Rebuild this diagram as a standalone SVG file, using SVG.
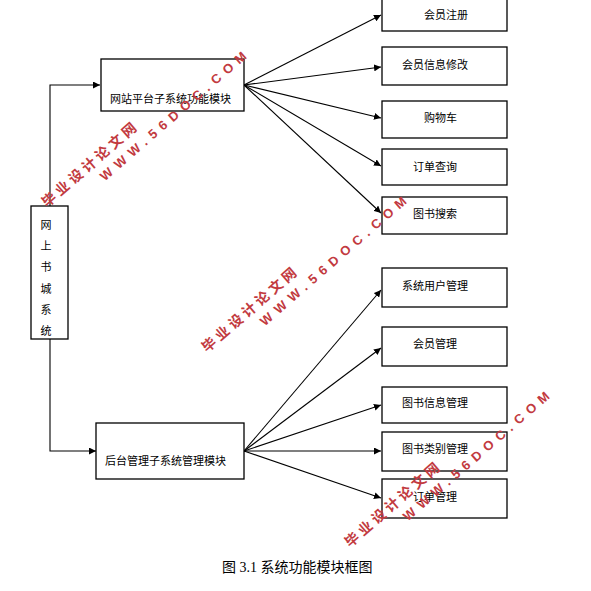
<svg xmlns="http://www.w3.org/2000/svg" width="591" height="591" viewBox="0 0 591 591">
<style>
.box{fill:#fff;stroke:#000;stroke-width:1.3}
.t{font-family:"Noto Sans CJK SC","Liberation Sans",sans-serif;font-size:11px;fill:#000}
.ln{fill:none;stroke:#000;stroke-width:1.1}
.cap{font-family:"Liberation Serif","Noto Sans CJK SC",serif;font-size:14px;fill:#000}
.wmc{font-family:"Noto Sans CJK SC",sans-serif;font-size:14px;font-weight:bold;fill:#c23a40}
.wme{font-family:"Liberation Sans",sans-serif;font-size:13px;font-weight:bold;fill:#c23a40}
</style>
<defs>
<marker id="ah" viewBox="0 0 10 10" refX="10" refY="5" markerWidth="7" markerHeight="7" markerUnits="userSpaceOnUse" orient="auto">
<path d="M0,0 L10,5 L0,10 z" fill="#000"/>
</marker>
</defs>
<rect width="591" height="591" fill="#fff"/>
<g id="connectors">
<polyline class="ln" points="50,206 50,85 100,85" marker-end="url(#ah)"/>
<polyline class="ln" points="50,339 50,451 96,451" marker-end="url(#ah)"/>
<line class="ln" x1="244" y1="85" x2="381" y2="15" marker-end="url(#ah)"/>
<line class="ln" x1="244" y1="85" x2="381" y2="67" marker-end="url(#ah)"/>
<line class="ln" x1="244" y1="85" x2="381" y2="118" marker-end="url(#ah)"/>
<line class="ln" x1="244" y1="85" x2="381" y2="166" marker-end="url(#ah)"/>
<line class="ln" x1="244" y1="85" x2="381" y2="213" marker-end="url(#ah)"/>
<line class="ln" x1="244" y1="451" x2="381" y2="290" marker-end="url(#ah)"/>
<line class="ln" x1="244" y1="451" x2="381" y2="348" marker-end="url(#ah)"/>
<line class="ln" x1="244" y1="451" x2="381" y2="405" marker-end="url(#ah)"/>
<line class="ln" x1="244" y1="451" x2="381" y2="451" marker-end="url(#ah)"/>
<line class="ln" x1="244" y1="451" x2="381" y2="498" marker-end="url(#ah)"/>
</g>
<g id="root">
<rect class="box" x="31" y="206" width="37" height="133"/>
<text class="t" x="46" text-anchor="middle"><tspan x="46" y="229">网</tspan><tspan x="46" y="250">上</tspan><tspan x="46" y="271">书</tspan><tspan x="46" y="292.5">城</tspan><tspan x="46" y="314">系</tspan><tspan x="46" y="335">统</tspan></text>
</g>
<g id="site">
<rect class="box" x="101" y="59" width="143" height="52"/>
<text class="t" x="110" y="103">网站平台子系统功能模块</text>
</g>
<g id="admin">
<rect class="box" x="96" y="423" width="148" height="56"/>
<text class="t" x="105" y="465">后台管理子系统管理模块</text>
</g>
<g id="n1"><rect class="box" x="382" y="-6" width="125" height="37"/><text class="t" x="424" y="19">会员注册</text></g>
<g id="n2"><rect class="box" x="382" y="47" width="125" height="38"/><text class="t" x="402" y="69">会员信息修改</text></g>
<g id="n3"><rect class="box" x="382" y="101" width="125" height="37"/><text class="t" x="424" y="122">购物车</text></g>
<g id="n4"><rect class="box" x="382" y="149" width="125" height="36"/><text class="t" x="413" y="171">订单查询</text></g>
<g id="n5"><rect class="box" x="382" y="197" width="125" height="37"/><text class="t" x="413" y="218">图书搜索</text></g>
<g id="n6"><rect class="box" x="382" y="268" width="125" height="39"/><text class="t" x="402" y="290">系统用户管理</text></g>
<g id="n7"><rect class="box" x="382" y="327" width="125" height="39"/><text class="t" x="413" y="348">会员管理</text></g>
<g id="n8"><rect class="box" x="382" y="387" width="125" height="36"/><text class="t" x="402" y="407">图书信息管理</text></g>
<g id="n9"><rect class="box" x="382" y="432" width="125" height="39"/><text class="t" x="402" y="453">图书类别管理</text></g>
<g id="n10"><rect class="box" x="382" y="479" width="125" height="39"/><text class="t" x="413" y="501">订单管理</text></g>
<text class="cap" x="222" y="572">图 3.1 系统功能模块框图</text>
<g id="watermarks">
<g transform="translate(47,208) rotate(-41)"><text class="wmc" x="0" y="0" textLength="120" lengthAdjust="spacing">毕业设计论文网</text><text class="wme" x="61" y="18" textLength="189" lengthAdjust="spacing">WWW.56DOC.COM</text></g>
<g transform="translate(207,353) rotate(-41)"><text class="wmc" x="0" y="0" textLength="120" lengthAdjust="spacing">毕业设计论文网</text><text class="wme" x="61" y="18" textLength="189" lengthAdjust="spacing">WWW.56DOC.COM</text></g>
<g transform="translate(350,548) rotate(-41)"><text class="wmc" x="0" y="0" textLength="120" lengthAdjust="spacing">毕业设计论文网</text><text class="wme" x="61" y="18" textLength="189" lengthAdjust="spacing">WWW.56DOC.COM</text></g>
</g>
</svg>
